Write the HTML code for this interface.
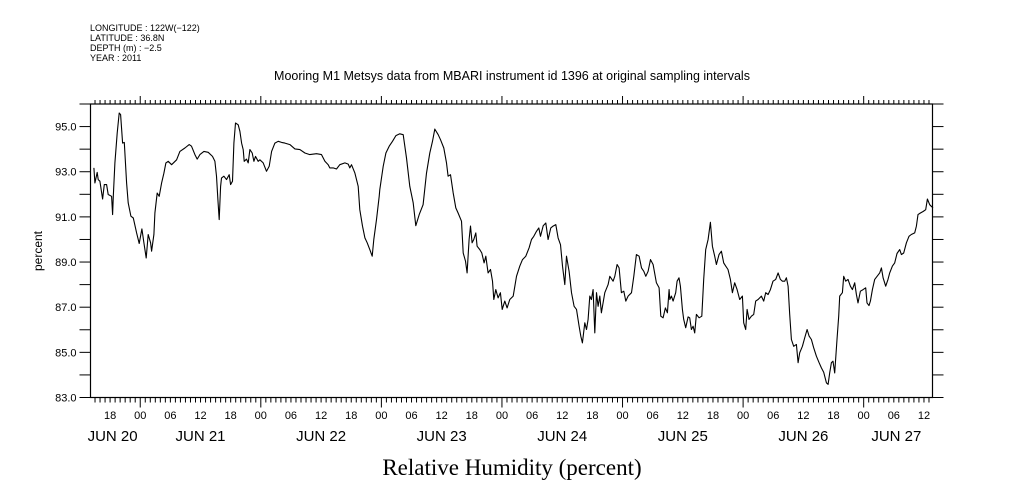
<!DOCTYPE html>
<html><head><meta charset="utf-8"><style>
html,body{margin:0;padding:0;background:#fff;}
svg{display:block;}
text{font-family:"Liberation Sans",sans-serif;fill:#000;}
</style></head><body>
<svg id="chart" width="1009" height="504" viewBox="0 0 1009 504" xmlns="http://www.w3.org/2000/svg">
<g font-size="9">
<text x="90" y="31">LONGITUDE : 122W(−122)</text>
<text x="90" y="41">LATITUDE : 36.8N</text>
<text x="90" y="51">DEPTH (m) : −2.5</text>
<text x="90" y="61">YEAR : 2011</text>
</g>
<text x="512" y="80" text-anchor="middle" font-size="12.5">Mooring M1 Metsys data from MBARI instrument id 1396 at original sampling intervals</text>
<text transform="translate(42,251) rotate(-90)" text-anchor="middle" font-size="12">percent</text>
<text x="512" y="475" text-anchor="middle" font-size="23" style="font-family:'Liberation Serif',serif">Relative Humidity (percent)</text>
<g id="axes"></g>
<g id="series"></g>
</svg>
<script>
const hours=[-9.22,-9.02,-8.56,-8.36,-8.03,-7.50,-7.16,-6.70,-6.37,-5.70,-5.51,-5.37,-5.04,-4.58,-4.18,-3.91,-3.52,-3.18,-2.72,-2.39,-1.86,-1.39,-0.73,-0.20,0.33,0.73,1.19,1.59,2.06,2.26,2.72,2.92,3.38,3.78,4.25,4.71,5.11,5.57,6.24,7.23,7.89,8.89,9.75,10.21,10.88,11.34,11.87,12.67,13.53,14.39,14.86,15.19,15.46,15.72,15.99,16.18,16.65,17.18,17.71,17.98,18.37,18.64,18.97,19.50,19.83,20.17,20.50,20.70,21.16,21.49,21.82,22.29,22.62,22.95,23.48,23.81,24.48,25.14,25.67,26.14,26.80,27.46,28.13,28.79,29.79,30.78,31.78,32.77,33.76,35.09,36.08,36.75,37.41,37.74,38.41,39.07,39.73,40.73,41.39,41.72,42.05,42.72,43.38,43.71,44.24,44.71,45.17,45.70,46.17,46.50,47.03,47.56,47.69,48.36,48.89,49.55,50.21,50.88,51.67,52.34,53.00,53.66,54.33,54.86,55.52,56.31,56.98,57.64,58.17,58.64,59.30,59.77,60.43,60.96,61.29,61.76,62.29,62.82,63.28,63.94,64.28,64.74,65.07,65.47,65.73,66.06,66.40,66.79,67.06,67.59,67.99,68.45,68.79,69.25,69.71,70.11,70.38,70.78,71.24,71.70,72.04,72.57,73.03,73.56,74.23,74.89,75.55,76.08,76.75,77.41,77.88,78.34,78.87,79.34,79.67,80.20,80.73,81.19,81.72,82.19,82.72,83.18,83.65,84.05,84.51,84.84,85.37,85.84,86.37,86.83,87.36,87.69,88.02,88.49,88.82,89.15,89.48,89.81,90.14,90.48,90.81,91.14,91.47,91.80,92.47,93.13,93.46,94.13,94.46,94.92,95.32,95.78,96.25,96.65,97.11,97.78,98.24,98.77,99.30,99.77,100.23,100.63,101.09,101.56,102.09,102.75,103.28,103.61,104.08,104.54,104.94,105.27,105.40,105.73,106.06,106.59,106.86,107.25,107.52,107.92,108.18,108.58,109.05,109.38,109.71,110.04,110.37,110.71,111.24,111.77,112.16,112.56,113.03,113.49,113.89,114.35,114.68,115.21,115.68,116.14,116.54,117.00,117.47,117.87,118.33,118.80,119.33,119.86,120.12,120.52,120.79,121.18,121.65,122.11,122.51,122.98,123.64,124.10,124.50,124.97,125.43,125.96,126.49,126.96,127.42,127.82,128.29,128.62,128.95,129.28,129.61,130.08,130.61,130.94,131.27,131.80,132.27,132.73,133.13,133.59,134.06,134.59,135.12,135.58,136.05,136.58,136.91,137.24,137.57,137.90,138.24,138.70,139.03,139.23,139.76,140.03,140.43,140.89,141.36,141.76,142.22,142.55,142.88,143.35,143.88,144.41,144.67,145.07,145.34,145.74,146.20,146.67,147.20,147.53,147.86,148.39,148.85,149.18,149.71,150.18,150.64,151.18,151.51,151.97,152.50,153.03,153.49,154.16,154.49,154.82,155.29,155.82,156.35,156.68,157.14,157.47,157.80];
const humidity=[93.17,92.50,92.97,92.65,92.58,91.79,92.43,92.43,91.99,91.91,91.10,91.91,93.39,94.71,95.60,95.53,94.27,94.30,92.50,91.62,91.03,90.95,90.29,89.82,90.47,89.85,89.18,90.22,89.85,89.48,90.22,91.17,92.06,91.91,92.50,92.94,93.39,93.46,93.31,93.53,93.90,94.05,94.20,94.13,93.76,93.56,93.76,93.90,93.86,93.68,93.46,92.80,91.76,90.88,92.35,92.72,92.80,92.65,92.87,92.43,92.58,94.27,95.16,95.08,94.79,94.27,93.98,93.46,93.56,93.39,93.98,93.83,93.46,93.68,93.46,93.53,93.39,93.02,93.24,93.90,94.27,94.35,94.30,94.27,94.20,94.01,93.98,93.83,93.76,93.80,93.76,93.46,93.31,93.17,93.17,93.12,93.31,93.39,93.34,93.17,93.31,92.94,92.35,91.32,90.59,90.07,89.85,89.55,89.26,90.00,90.88,91.91,92.21,93.24,93.83,94.13,94.35,94.60,94.68,94.64,93.61,92.35,91.62,90.61,91.10,91.54,92.94,93.83,94.35,94.89,94.64,94.42,94.05,93.39,92.80,92.87,92.06,91.40,91.17,90.81,89.40,89.04,88.52,90.00,90.59,89.85,90.00,90.29,89.70,89.55,89.40,88.96,89.26,88.52,88.67,88.15,87.34,87.78,87.41,87.64,86.90,87.27,86.97,87.34,87.49,88.37,88.82,89.11,89.26,89.63,90.00,90.14,90.36,90.51,90.14,90.61,90.73,90.00,90.51,90.59,90.66,90.07,89.77,88.82,88.00,89.26,88.59,87.64,87.04,86.90,86.16,85.72,85.42,86.31,86.01,86.46,87.49,87.34,87.78,85.86,87.64,87.04,87.49,86.75,87.64,88.00,88.37,88.15,88.37,88.89,88.74,87.64,87.71,87.27,87.49,87.64,88.37,89.33,89.26,88.74,88.59,88.37,88.59,89.11,88.89,88.08,87.86,86.60,86.53,86.97,86.75,87.78,87.34,87.49,87.27,87.64,88.15,88.30,87.93,86.90,86.46,86.09,86.57,86.53,86.01,86.16,85.86,86.68,86.53,86.60,88.23,89.55,90.00,90.76,89.70,89.26,88.89,89.33,89.48,88.96,88.82,88.67,88.23,87.64,88.08,87.78,87.34,87.49,86.31,86.01,86.90,86.46,86.60,86.68,87.27,87.34,87.49,87.27,87.64,87.56,87.78,88.15,88.23,88.52,88.23,88.15,88.15,88.30,87.93,86.68,85.57,85.27,85.35,84.54,84.98,85.27,85.64,86.01,85.72,85.57,85.20,84.83,84.54,84.31,84.12,83.65,83.58,84.09,84.54,84.61,84.09,85.57,86.60,87.49,87.64,88.37,88.15,88.23,87.93,87.78,88.08,87.56,87.19,87.71,87.78,87.86,87.19,87.07,87.27,87.78,88.23,88.37,88.52,88.74,88.30,87.93,88.23,88.52,88.82,88.96,89.38,89.55,89.33,89.40,89.85,90.14,90.22,90.29,90.59,91.10,91.17,91.24,91.32,91.79,91.54,91.47,91.40];
const yTickLabels=["83.0","85.0","87.0","89.0","91.0","93.0","95.0"];
const hourLabels=["18","00","06","12","18","00","06","12","18","00","06","12","18","00","06","12","18","00","06","12","18","00","06","12","18","00","06","12","18","00","06","12","18","00","06","12"].slice(0,28);
const dayLabels=["JUN 20","JUN 21","JUN 22","JUN 23","JUN 24","JUN 25","JUN 26","JUN 27"];

const NS="http://www.w3.org/2000/svg";
const L=90.5,R=932.5,T=104,B=397.5;
const tMin=-9.9,tMax=157.7,yMin=83,yMax=96;
function xs(t){return L+(t-tMin)/(tMax-tMin)*(R-L);}
function ys(v){return B-(v-yMin)/(yMax-yMin)*(B-T);}
function mk(tag,attrs,parent){const e=document.createElementNS(NS,tag);for(const k in attrs)e.setAttribute(k,attrs[k]);parent.appendChild(e);return e;}
const ax=document.getElementById('axes');
const frame=mk('rect',{x:L,y:T,width:R-L,height:B-T,fill:'none',stroke:'#000','stroke-width':1.2},ax);


for(let v=83;v<=96;v++){
  const y=ys(v);
  const tl=mk('line',{x1:L-11,x2:L,y1:y,y2:y,stroke:'#000','stroke-width':1},ax);
  
  
  const tr=mk('line',{x1:R,x2:R+11,y1:y,y2:y,stroke:'#000','stroke-width':1},ax);
  
  
}
yTickLabels.forEach(s=>{
  const t=mk('text',{x:L-14,y:ys(parseFloat(s))+4,'text-anchor':'end','font-size':11},ax);
  t.textContent=s;
  
  
});
for(let h=Math.ceil(tMin);h<=Math.floor(tMax);h++){
  const x=xs(h);const major=((h%24)+24)%24===0;
  const b=mk('line',{x1:x,x2:x,y1:B,y2:B+(major?10:5),stroke:'#000','stroke-width':1},ax);
  
  
  const t=mk('line',{x1:x,x2:x,y1:T,y2:T-(major?8:4),stroke:'#000','stroke-width':1},ax);
  
  
}
hourLabels.forEach((s,i)=>{
  const h=-6+6*i;
  const t=mk('text',{x:xs(h),y:419,'text-anchor':'middle','font-size':11},ax);
  t.textContent=s;
  
  
});
dayLabels.forEach((s,i)=>{
  let c=xs(-12+24*i);
  if(i===0)c=xs(-5.5);
  if(i===dayLabels.length-1)c=xs(150.5);
  const t=mk('text',{x:c,y:441,'text-anchor':'middle','font-size':15},ax);
  t.textContent=s;
  
  
});
const pts=hours.map((h,i)=>xs(h).toFixed(1)+','+ys(humidity[i]).toFixed(1)).join(' ');
const line=mk('polyline',{points:pts,fill:'none',stroke:'#000','stroke-width':1.1,'stroke-linejoin':'round'},document.getElementById('series'));


</script>
</body></html>
